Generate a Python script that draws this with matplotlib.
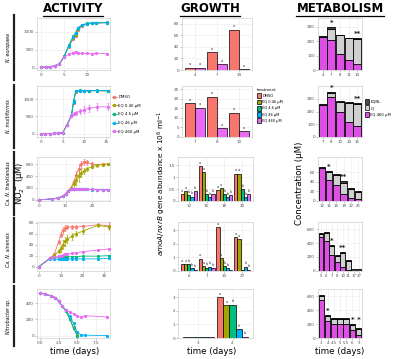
import matplotlib
matplotlib.use('Agg')
import matplotlib.pyplot as plt
import numpy as np
from matplotlib.lines import Line2D
from matplotlib.patches import Patch

W, H = 400, 359
fig = plt.figure(figsize=(4.0, 3.59), dpi=100)
fig.patch.set_facecolor('white')

# ---------------- data ----------------
treatments = ['DMSO', 'EQ 0.46 µM', 'EQ 4.6 µM', 'EQ 46 µM', 'EQ 460 µM']
colors = ['#F8766D', '#A3A500', '#00BF7D', '#00B0F6', '#E76BF3']
species = ['N. europaea', 'N. multiformis', 'Ca. N. franklandus', 'Ca. N. sinensis', 'Nitrobacter sp.']

# ACTIVITY (NO2- µM) ------------------------------------------
t_eu = [0, 1, 2, 3, 4, 5, 6, 7, 7.5, 8, 9, 10, 11, 12, 14.3]
eu_dmso = [5, 10, 20, 50, 110, 300, 580, 800, 880, 1050, 1170, 1220, 1240, 1250, 1255]
eu_046 = [5, 10, 20, 50, 110, 310, 600, 830, 920, 1080, 1180, 1230, 1245, 1250, 1260]
eu_46a = [5, 10, 20, 50, 110, 310, 620, 880, 980, 1120, 1200, 1240, 1250, 1255, 1265]
eu_46b = [5, 10, 20, 50, 110, 300, 610, 870, 960, 1110, 1190, 1235, 1250, 1255, 1260]
eu_460 = [5, 10, 20, 50, 110, 290, 380, 420, 440, 410, 395, 400, 390, 395, 390]

t_mu = [0, 1, 2, 3, 4, 5, 6, 7, 7.5, 8, 9, 10, 11, 13, 15.5]
mu_dmso = [0, 0, 0, 5, 10, 20, 250, 500, 900, 1220, 1250, 1245, 1250, 1255, 1250]
mu_046 = [0, 0, 0, 5, 10, 20, 250, 510, 920, 1230, 1255, 1250, 1250, 1255, 1245]
mu_46a = [0, 0, 0, 5, 10, 20, 260, 520, 940, 1240, 1260, 1255, 1255, 1260, 1250]
mu_46b = [0, 0, 0, 5, 10, 20, 255, 515, 930, 1235, 1255, 1250, 1250, 1255, 1250]
mu_460 = [0, 0, 0, 5, 10, 20, 250, 520, 580, 610, 650, 700, 740, 780, 780]
mu_460_err = [0, 0, 0, 0, 0, 0, 20, 40, 50, 60, 80, 100, 100, 100, 100]

t_fr = [0, 5, 7, 9, 10, 11, 12, 13, 14, 15, 16, 17, 18, 20, 22, 24, 26]
fr_dmso = [0, 15, 30, 60, 100, 150, 200, 300, 420, 520, 600, 640, 630, 600, 590, 600, 600]
fr_046 = [0, 15, 30, 60, 100, 150, 190, 260, 330, 400, 450, 490, 520, 560, 580, 590, 600]
fr_46a = [0, 15, 30, 60, 100, 150, 180, 185, 182, 178, 180, 178, 175, 176, 172, 170, 170]
fr_46b = [0, 15, 30, 60, 100, 150, 175, 180, 178, 175, 178, 176, 174, 173, 170, 168, 168]
fr_460 = [0, 15, 30, 60, 100, 150, 178, 182, 180, 176, 179, 177, 175, 174, 171, 170, 169]
fr_dmso_err = [0, 0, 0, 0, 0, 10, 20, 40, 60, 80, 60, 50, 40, 30, 20, 20, 20]
fr_046_err = [0, 0, 0, 0, 0, 10, 20, 40, 80, 100, 60, 50, 40, 30, 20, 20, 20]

t_si = [0, 5, 7, 9, 10, 11, 12, 13, 15, 17, 20, 27, 32]
si_dmso = [0, 15, 22, 45, 58, 66, 70, 72, 72, 72, 73, 76, 74]
si_046 = [0, 15, 20, 28, 33, 40, 46, 50, 55, 60, 64, 75, 72]
si_46a = [0, 15, 16, 16, 17, 17, 17, 18, 18, 18, 19, 19, 20]
si_46b = [0, 14, 14, 13, 13, 13, 13, 14, 14, 14, 14, 14, 15]
si_460 = [0, 15, 18, 19, 20, 21, 22, 23, 24, 25, 27, 30, 32]
si_dmso_err = [0, 1, 2, 4, 5, 6, 5, 4, 3, 3, 3, 3, 8]
si_046_err = [0, 1, 2, 4, 6, 8, 8, 7, 6, 5, 4, 3, 3]

t_nb = [0, 0.7, 1.5, 2, 2.5, 3, 3.5, 4, 4.5, 5, 5.5, 6, 9]
nb_dmso = [530, 510, 490, 470, 430, 360, 300, 200, 90, 0, np.nan, np.nan, np.nan]
nb_046 = [530, 510, 490, 470, 430, 360, 300, 210, 100, 5, np.nan, np.nan, np.nan]
nb_46a = [530, 510, 490, 470, 430, 360, 300, 205, 95, 0, np.nan, np.nan, np.nan]
nb_46b = [530, 510, 490, 470, 430, 360, 310, 240, 150, 40, 10, 5, 0]
nb_460 = [530, 510, 490, 470, 430, 360, 320, 290, 270, 245, 225, 245, 230]

activity = [
    (t_eu, [eu_dmso, eu_046, eu_46a, eu_46b, eu_460]),
    (t_mu, [mu_dmso, mu_046, mu_46a, mu_46b, mu_460]),
    (t_fr, [fr_dmso, fr_046, fr_46a, fr_46b, fr_460]),
    (t_si, [si_dmso, si_046, si_46a, si_46b, si_460]),
    (t_nb, [nb_dmso, nb_046, nb_46a, nb_46b, nb_460]),
]
activity_err = {(1, 4): mu_460_err, (2, 0): fr_dmso_err, (2, 1): fr_046_err,
                (3, 0): si_dmso_err, (3, 1): si_046_err}

# GROWTH (gene abundance x10^6 ml-1) ---------------------------
g_eu_days = ['4', '7', '14']
g_eu_dmso = [4, 31, 70]
g_eu_460 = [4, 10, 1]
g_mu_days = ['7', '8', '10']
g_mu_dmso = [17.7, 21, 12.6]
g_mu_460 = [15.2, 4.5, 3]
g_fr_days = ['12', '15', '18', '20']
g_fr = [[0.3, 1.46, 0.45, 1.15],
        [0.4, 1.22, 0.55, 1.15],
        [0.25, 0.3, 0.3, 0.5],
        [0.18, 0.15, 0.15, 0.15],
        [0.4, 0.3, 0.25, 0.3]]
g_si_days = ['6', '7', '10', '27']
g_si = [[0.5, 0.9, 3.2, 2.5],
        [0.5, 0.35, 0.95, 2.35],
        [0.5, 0.25, 0.35, 0.05],
        [0.2, 0.3, 0.2, 0.3],
        [0.1, 0.2, 0.05, 0.1]]
g_nb_days = ['3', '4']
g_nb = [[0.05, 3.0],
        [0.05, 2.4],
        [0.05, 2.45],
        [0.05, 0.65],
        [0.05, 0.1]]

# METABOLISM (µM) ---------------------------------------------
m_labels = ['EQNL', 'QI', 'EQ 460 µM']
m_colors = ['#4a4a4a', '#d0d0d0', '#DE4FE6']
m_eu_days = ['4', '7', '8', '11', '14']
m_eu_eq = [225, 205, 110, 70, 45]
m_eu_qi = [0, 80, 130, 150, 170]
m_eu_nl = [8, 10, 5, 4, 4]
m_mu_days = ['7', '8', '10', '14', '16']
m_mu_eq = [250, 310, 200, 115, 90]
m_mu_qi = [2, 32, 78, 152, 168]
m_mu_nl = [8, 8, 7, 8, 8]
m_fr_days = ['12', '15', '16', '19', '22', '25']
m_fr_eq = [68, 44, 33, 15, 6, 4]
m_fr_qi = [0, 16, 21, 23, 19, 15]
m_fr_nl = [4, 3, 3, 3, 3, 2]
m_si_days = ['5', '6', '7', '8', '10', '11', '17', '27']
m_si_eq = [480, 430, 230, 130, 60, 10, 2, 2]
m_si_qi = [45, 110, 125, 85, 195, 135, 5, 5]
m_si_nl = [15, 15, 15, 15, 15, 15, 25, 25]
m_nb_days = ['3', '4', '4.5', '5', '5.5', '6', '9']
m_nb_eq = [540, 250, 200, 200, 200, 110, 50]
m_nb_qi = [60, 60, 70, 70, 70, 75, 85]
m_nb_nl = [20, 15, 20, 20, 20, 15, 15]
m_stars = [[(1, '*'), (4, '**')], [(1, '*'), (4, '**')], [(1, '*'), (3, '**')],
           [(2, '*'), (4, '**')], [(1, '*'), (5.5, '* *')]]

# ---------------- layout helpers ----------------
def ax_at(x0, y0, x1, y1):
    return fig.add_axes([x0 / W, 1 - y1 / H, (x1 - x0) / W, (y1 - y0) / H])

def style(ax):
    ax.set_facecolor('white')
    ax.grid(True, color='#ebebeb', lw=0.4)
    ax.set_axisbelow(True)
    for s in ax.spines.values():
        s.set_color('#cfcfcf')
        s.set_linewidth(0.5)
    ax.tick_params(length=1.2, width=0.4, color='#999999', labelsize=3.0,
                   labelcolor='#4d4d4d', pad=1)

rows = [(18, 70), (86, 137), (157, 201), (222, 271), (289, 338)]

# ---------------- ACTIVITY ----------------
act_ylim = [(-70, 1390), (-100, 1390), (-20, 720), (-8, 81), (-30, 575)]
act_xlim = [(-0.9, 15), (-0.9, 15.9), (-0.8, 26.8), (-0.9, 32.6), (-0.4, 9.4)]
act_xt = [[0, 5, 10], [0, 5, 10, 15], [0, 10, 20], [0, 10, 20, 30], [0, 2.5, 5, 7.5]]
act_xtl = [None, None, None, None, ['0.0', '2.5', '5.0', '7.5']]
act_yt = [[0, 500, 1000], [0, 500, 1000], [0, 200, 400, 600], [0, 20, 40, 60, 80], [0, 200, 400]]
for r, (t, series) in enumerate(activity):
    ax = ax_at(37, rows[r][0], 110, rows[r][1])
    style(ax)
    for i, ys in enumerate(series):
        err = activity_err.get((r, i))
        ax.errorbar(t, ys, yerr=err, color=colors[i], lw=0.6, marker='o', ms=1.3,
                    elinewidth=0.5, capsize=0.8, capthick=0.4, zorder=3 + i)
    ax.set_xlim(*act_xlim[r])
    ax.set_ylim(*act_ylim[r])
    ax.set_xticks(act_xt[r])
    if act_xtl[r]:
        ax.set_xticklabels(act_xtl[r])
    ax.set_yticks(act_yt[r])

# activity legend
h_act = [Line2D([], [], color=c, marker='o', ms=1.5, lw=0.6) for c in colors]
fig.legend(h_act, treatments, loc='upper left', bbox_to_anchor=(110 / W, 1 - 93 / H),
           frameon=False, fontsize=2.8, handlelength=1.2, labelspacing=1.2,
           handletextpad=0.4, borderpad=0)

# ---------------- GROWTH ----------------
def dodge_bars(ax, cats, vals, cols):
    n = len(vals)
    x = np.arange(len(cats))
    w = 0.9 / n
    for i, v in enumerate(vals):
        ax.bar(x - 0.45 + w * (i + 0.5), v, width=w, color=cols[i], edgecolor='black',
               lw=0.5, zorder=3)
    ax.set_xticks(x)
    ax.set_xticklabels(cats)
    ax.set_xlim(-0.6, len(cats) - 0.4)
    ax.grid(True, axis='x', color='#ebebeb', lw=0.4)
    return x, w

growth = [
    (g_eu_days, [g_eu_dmso, g_eu_460], [colors[0], colors[4]], (0, 90), [0, 20, 40, 60, 80], None),
    (g_mu_days, [g_mu_dmso, g_mu_460], [colors[0], colors[4]], (0, 26.7), [0, 5, 10, 15, 20, 25], None),
    (g_fr_days, g_fr, colors, (0, 1.85), [0, 0.5, 1, 1.5], ['0', '0.5', '1', '1.5']),
    (g_si_days, g_si, colors, (0, 3.6), [0, 1, 2, 3], None),
    (g_nb_days, g_nb, colors, (0, 3.6), [0, 1, 2, 3], None),
]
g_x = [(182, 252), (182, 252), (178, 253), (178, 253), (178, 253)]
for r, (cats, vals, cols, yl, yt, ytl) in enumerate(growth):
    ax = ax_at(g_x[r][0], rows[r][0], g_x[r][1], rows[r][1])
    style(ax)
    x, w = dodge_bars(ax, cats, vals, cols)
    ax.set_ylim(*yl)
    ax.set_yticks(yt)
    if ytl:
        ax.set_yticklabels(ytl)
    for i, v in enumerate(vals):
        for j, vv in enumerate(v):
            if vv > 0.02 * yl[1] or r < 2:
                ax.text(x[j] - 0.45 + w * (i + 0.5), vv + 0.03 * yl[1],
                        'a' if i < 2 else 'b', fontsize=2.5, ha='center',
                        va='bottom', color='#333333')

h_g = [Patch(facecolor=c, edgecolor='black', lw=0.5) for c in colors]
fig.legend(h_g, treatments, loc='upper left', bbox_to_anchor=(255 / W, 1 - 86 / H),
           frameon=False, fontsize=2.6, title='treatment', title_fontsize=2.8,
           handlelength=1.1, handleheight=1.6, labelspacing=0.45, handletextpad=0.4,
           borderpad=0, alignment='left')

# ---------------- METABOLISM ----------------
metab = [
    (m_eu_days, m_eu_eq, m_eu_qi, m_eu_nl, (0, 360), [0, 100, 200, 300]),
    (m_mu_days, m_mu_eq, m_mu_qi, m_mu_nl, (0, 400), [0, 100, 200, 300]),
    (m_fr_days, m_fr_eq, m_fr_qi, m_fr_nl, (0, 92), [0, 20, 40, 60]),
    (m_si_days, m_si_eq, m_si_qi, m_si_nl, (0, 700), [0, 200, 400, 600]),
    (m_nb_days, m_nb_eq, m_nb_qi, m_nb_nl, (0, 700), [0, 200, 400, 600]),
]
for r, (cats, eq, qi, nl, yl, yt) in enumerate(metab):
    ax = ax_at(318, rows[r][0], 362, rows[r][1])
    style(ax)
    x = np.arange(len(cats))
    eq = np.array(eq, float); qi = np.array(qi, float); nl = np.array(nl, float)
    ax.bar(x, eq, width=0.9, color=m_colors[2], edgecolor='black', lw=0.6, zorder=3)
    ax.bar(x, qi, bottom=eq, width=0.9, color=m_colors[1], edgecolor='black', lw=0.6, zorder=3)
    ax.bar(x, nl, bottom=eq + qi, width=0.9, color=m_colors[0], edgecolor='black', lw=0.6, zorder=3)
    ax.set_xticks(x)
    ax.set_xticklabels(cats)
    ax.tick_params(axis='x', labelsize=2.8)
    ax.set_xlim(-0.55, len(cats) - 0.45)
    ax.set_ylim(*yl)
    ax.set_yticks(yt)
    tot = eq + qi + nl
    for pos, s in m_stars[r]:
        base = tot[min(int(pos), len(cats) - 1)]
        ax.text(pos, base + 0.03 * yl[1], s, fontsize=5, ha='center', va='bottom',
                color='#222222', fontweight='bold')

h_m = [Patch(facecolor=c, edgecolor='black', lw=0.5) for c in m_colors]
fig.legend(h_m, m_labels, loc='upper left', bbox_to_anchor=(363 / W, 1 - 97 / H),
           frameon=False, fontsize=2.7, handlelength=1.1, handleheight=1.6,
           labelspacing=0.45, handletextpad=0.4, borderpad=0)

# ---------------- texts ----------------
titles = [('ACTIVITY', 73), ('GROWTH', 210), ('METABOLISM', 340)]
fig.canvas.draw()
renderer = fig.canvas.get_renderer()
for txt, xc in titles:
    t = fig.text(xc / W, 1 - 9 / H, txt, ha='center', va='center', fontsize=8.5,
                 fontweight='bold', color='black')
    bb = t.get_window_extent(renderer=renderer)
    fw = fig.bbox.width
    fig.add_artist(Line2D([bb.x0 / fw, bb.x1 / fw], [1 - 16 / H, 1 - 16 / H],
                          transform=fig.transFigure, color='black', lw=0.9))

for xc in [75, 212, 340]:
    fig.text(xc / W, 1 - 352 / H, 'time (days)', ha='center', va='center', fontsize=6.2)

fig.text(20 / W, 1 - 183 / H, r'NO$_2^-$ (µM)', rotation=90, ha='center', va='center',
         fontsize=6.0)
fig.text(162 / W, 1 - 183 / H, r'$\it{amoA/nxrB}$ gene abundance x 10$^6$ ml$^{-1}$',
         rotation=90, ha='center', va='center', fontsize=5.2)
fig.text(300 / W, 1 - 183 / H, 'Concentration (µM)', rotation=90, ha='center',
         va='center', fontsize=6.2)

bars_y = [(15, 80), (85, 148), (152, 215), (218, 282), (286, 346)]
for (y0, y1), sp in zip(bars_y, species):
    fig.add_artist(Line2D([14 / W, 14 / W], [1 - y0 / H, 1 - y1 / H],
                          transform=fig.transFigure, color='#222222', lw=1.6))
    fig.text(8.5 / W, 1 - (y0 + y1) / 2 / H, sp, rotation=90, ha='center', va='center',
             fontsize=3.4, style='italic')

fig.savefig('out.png', dpi=100, facecolor='white')
